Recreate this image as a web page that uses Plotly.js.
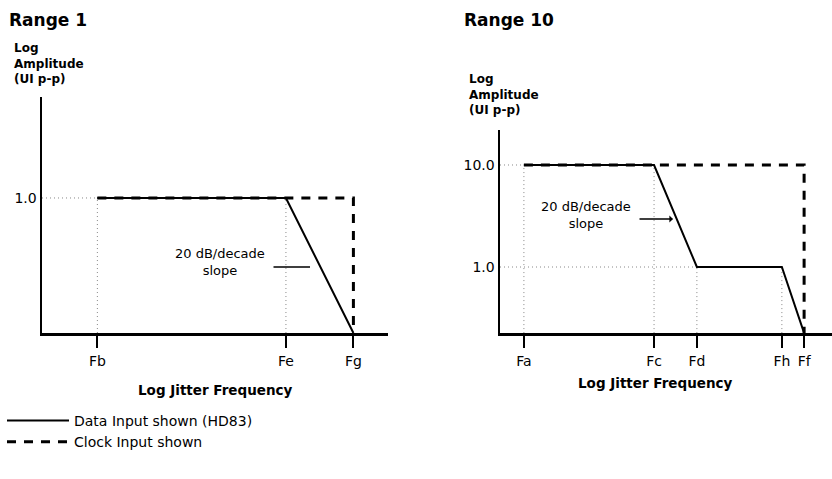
<!DOCTYPE html>
<html>
<head>
<meta charset="utf-8">
<script src="https://cdn.plot.ly/plotly-3.0.1.min.js"></script>
<style>html,body{margin:0;padding:0;background:#fff}#chart{width:832px;height:479px}</style>
</head>
<body>
<div id="chart"></div>
<script>
// ---------- data (schematic log-frequency positions and amplitudes) ----------
var range1TickNames = ['Fb', 'Fe', 'Fg'];
var range1TickPos   = [1.6, 7.05, 9.0];
var range1DataX     = [1.6, 7.05, 9.0];
var range1DataY     = [1.0, 1.0, 0.046];
var range1ClockX    = [1.6, 9.0, 9.0];
var range1ClockY    = [1.0, 1.0, 0.046];
var range1YTicks    = [1.0];
var range1YLabels   = ['1.0'];

var range10TickNames = ['Fa', 'Fc', 'Fd', 'Fh', 'Ff'];
var range10TickPos   = [0.72, 4.64, 5.93, 8.49, 9.16];
var range10DataX     = [0.72, 4.64, 5.93, 8.49, 9.16];
var range10DataY     = [10.0, 10.0, 1.0, 1.0, 0.225];
var range10ClockX    = [0.72, 9.16, 9.16];
var range10ClockY    = [10.0, 10.0, 0.225];
var range10YTicks    = [10.0, 1.0];
var range10YLabels   = ['10.0', '1.0'];

var floor1 = 0.046, floor10 = 0.225;

// ---------- helpers ----------
var W = 832, H = 479;
function px(x) { return x / W; }
function py(y) { return 1 - y / H; }
var FONT = 'DejaVu Sans';

function guides(xs, ys, floor) {
  var gx = [], gy = [], seen = {};
  for (var i = 0; i < xs.length - 1; i++) {
    gx.push(xs[i], xs[i], null); gy.push(floor, ys[i], null);
    if (!seen[ys[i]]) { seen[ys[i]] = 1; gx.push(0, xs[i], null); gy.push(ys[i], ys[i], null); }
  }
  return {x: gx, y: gy};
}
var g1 = guides(range1DataX, range1DataY, floor1);
var g10 = guides(range10DataX, range10DataY, floor10);
var guideLine = {color: '#888', width: 1, dash: '1px,3px'};

var traces = [
  {x: g1.x, y: g1.y, xaxis: 'x', yaxis: 'y', mode: 'lines', line: guideLine, showlegend: false, hoverinfo: 'skip'},
  {x: g10.x, y: g10.y, xaxis: 'x2', yaxis: 'y2', mode: 'lines', line: guideLine, showlegend: false, hoverinfo: 'skip'},
  {x: range1ClockX, y: range1ClockY, xaxis: 'x', yaxis: 'y', mode: 'lines', name: 'Clock Input shown', legendrank: 2,
   line: {color: '#000', width: 3, dash: '9px,8px'}, showlegend: true},
  {x: range10ClockX, y: range10ClockY, xaxis: 'x2', yaxis: 'y2', mode: 'lines', name: 'Clock Input shown',
   line: {color: '#000', width: 3, dash: '9px,8px'}, showlegend: false},
  {x: range1DataX, y: range1DataY, xaxis: 'x', yaxis: 'y', mode: 'lines', name: 'Data Input shown (HD83)', legendrank: 1,
   line: {color: '#000', width: 2}, showlegend: true},
  {x: range10DataX, y: range10DataY, xaxis: 'x2', yaxis: 'y2', mode: 'lines', name: 'Data Input shown (HD83)',
   line: {color: '#000', width: 2}, showlegend: false}
];

function xAxis(domain, pos, names, anchor) {
  return {domain: domain, range: [0, 10], anchor: anchor, showgrid: false, zeroline: false,
    showline: true, linecolor: '#000', linewidth: 2.5,
    tickmode: 'array', tickvals: pos, ticktext: names, ticks: 'outside', ticklen: 12, tickwidth: 2, tickcolor: '#000',
    ticklabelstandoff: 2,
    tickfont: {family: FONT, size: 14, color: '#000'}, fixedrange: true};
}
function yAxis(domain, range, vals, labels, anchor) {
  return {domain: domain, type: 'log', range: range, anchor: anchor, showgrid: false, zeroline: false,
    showline: true, linecolor: '#000', linewidth: 2.5,
    tickmode: 'array', tickvals: vals, ticktext: labels, ticks: '',
    tickfont: {family: FONT, size: 14, color: '#000'}, fixedrange: true};
}

function txt(t, x, y, size, anchor, align) {
  return {text: t, xref: 'paper', yref: 'paper', x: px(x), y: py(y), xanchor: anchor || 'left', yanchor: 'middle',
    align: align || 'left', borderpad: 0,
    showarrow: false, font: {family: FONT, size: size, color: '#000'}};
}
function pointer(x0, x1, y, head) {
  return {text: '', xref: 'paper', yref: 'paper', x: px(x1), y: py(y), ax: x0 - x1, ay: 0,
    showarrow: true, arrowhead: head, arrowsize: 0.8, arrowwidth: 1.5, arrowcolor: '#000', standoff: 0, startstandoff: 0};
}

var layout = {
  width: W, height: H,
  margin: {l: 0, r: 0, t: 0, b: 0},
  paper_bgcolor: '#fff', plot_bgcolor: 'rgba(0,0,0,0)',
  font: {family: FONT, color: '#000'},
  xaxis: xAxis([px(42), px(388)], range1TickPos, range1TickNames, 'y'),
  yaxis: yAxis([py(333), py(97)], [-1.337, 1.0], range1YTicks, range1YLabels, 'x'),
  xaxis2: xAxis([px(500), 1], range10TickPos, range10TickNames, 'y2'),
  yaxis2: yAxis([py(333), py(130)], [-0.647, 1.343], range10YTicks, range10YLabels, 'x2'),
  showlegend: true,
  legend: {x: px(2), y: py(405), xanchor: 'left', yanchor: 'top', bgcolor: 'rgba(0,0,0,0)',
    font: {family: FONT, size: 14, color: '#000'}, itemwidth: 62, tracegroupgap: 0, traceorder: 'normal'},
  annotations: [
    txt('<b>Range 1</b>', 8, 20, 17),
    txt('<b>Range 10</b>', 463, 20, 17),
    txt('<b>Log<br>Amplitude<br>(UI p-p)</b>', 13, 63, 12),
    txt('<b>Log<br>Amplitude<br>(UI p-p)</b>', 468, 95, 12),
    txt('<b>Log Jitter Frequency</b>', 215, 390, 13.5, 'center'),
    txt('<b>Log Jitter Frequency</b>', 655, 383, 13.5, 'center'),
    txt('20 dB/decade<br>slope', 220, 262, 13, 'center', 'center'),
    txt('20 dB/decade<br>slope', 586, 215, 13, 'center', 'center'),
    pointer(272, 310, 267, 0),
    pointer(638, 673, 219, 1)
  ]
};

Plotly.newPlot('chart', traces, layout, {staticPlot: true, displayModeBar: false});
</script>
</body>
</html>
